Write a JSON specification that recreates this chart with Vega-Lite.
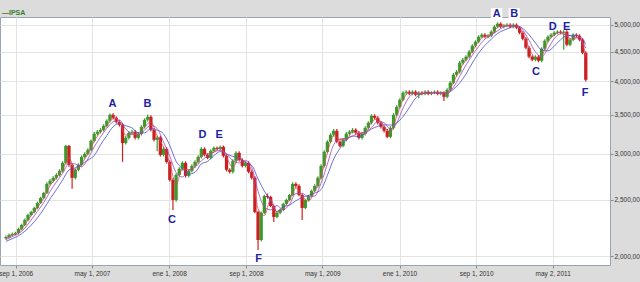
{
  "$schema": "https://vega.github.io/schema/vega-lite/v6.json",
  "width": 610,
  "height": 248,
  "autosize": {"type": "none"},
  "padding": {"left": 0, "top": 17, "right": 30, "bottom": 17},
  "background": "#dcdcdc",
  "view": {"fill": "#ffffff", "stroke": "#9aa4b0", "strokeWidth": 1},
  "title": {"text": "—IPSA", "anchor": "start", "fontSize": 7, "fontWeight": "bold", "color": "#3a7d2a", "offset": 3, "dx": 2, "dy": 11, "font": "Liberation Sans", "frame": "group"},
  "config": {
    "font": "Liberation Sans",
    "axis": {"labelFont": "Liberation Sans", "labelFontSize": 6.5, "labelColor": "#333333", "tickColor": "#8a8a8a", "tickSize": 3, "gridColor": "#e3e3e3", "gridWidth": 1, "domain": false, "labelOverlap": false, "labelFlush": false}
  },
  "datasets": {
    "ohlc": [
      {"d":"2006-08-01","o":2145,"h":2169,"l":2133,"c":2157},
      {"d":"2006-08-11","o":2157,"h":2186,"l":2145,"c":2174},
      {"d":"2006-08-21","o":2174,"h":2195,"l":2162,"c":2183},
      {"d":"2006-08-31","o":2183,"h":2203,"l":2171,"c":2191},
      {"d":"2006-09-10","o":2191,"h":2239,"l":2179,"c":2227},
      {"d":"2006-09-20","o":2227,"h":2274,"l":2215,"c":2262},
      {"d":"2006-09-30","o":2262,"h":2320,"l":2250,"c":2308},
      {"d":"2006-10-10","o":2308,"h":2366,"l":2296,"c":2354},
      {"d":"2006-10-20","o":2354,"h":2394,"l":2342,"c":2382},
      {"d":"2006-10-30","o":2382,"h":2432,"l":2370,"c":2420},
      {"d":"2006-11-09","o":2420,"h":2481,"l":2408,"c":2469},
      {"d":"2006-11-19","o":2469,"h":2530,"l":2457,"c":2518},
      {"d":"2006-11-29","o":2518,"h":2581,"l":2506,"c":2569},
      {"d":"2006-12-09","o":2569,"h":2680,"l":2557,"c":2662},
      {"d":"2006-12-19","o":2662,"h":2713,"l":2644,"c":2695},
      {"d":"2006-12-29","o":2695,"h":2745,"l":2677,"c":2727},
      {"d":"2007-01-08","o":2727,"h":2777,"l":2709,"c":2759},
      {"d":"2007-01-18","o":2759,"h":2822,"l":2741,"c":2804},
      {"d":"2007-01-28","o":2804,"h":2912,"l":2786,"c":2894},
      {"d":"2007-02-07","o":2894,"h":3110,"l":2876,"c":3095},
      {"d":"2007-02-17","o":3095,"h":3105,"l":2850,"c":2871},
      {"d":"2007-02-27","o":2871,"h":2889,"l":2611,"c":2727},
      {"d":"2007-03-09","o":2727,"h":2833,"l":2709,"c":2815},
      {"d":"2007-03-19","o":2815,"h":2889,"l":2797,"c":2871},
      {"d":"2007-03-29","o":2871,"h":2981,"l":2853,"c":2963},
      {"d":"2007-04-08","o":2963,"h":3017,"l":2945,"c":2999},
      {"d":"2007-04-18","o":2999,"h":3065,"l":2981,"c":3047},
      {"d":"2007-04-28","o":3047,"h":3176,"l":3029,"c":3158},
      {"d":"2007-05-08","o":3158,"h":3269,"l":3140,"c":3247},
      {"d":"2007-05-18","o":3247,"h":3295,"l":3225,"c":3273},
      {"d":"2007-05-28","o":3273,"h":3321,"l":3251,"c":3299},
      {"d":"2007-06-07","o":3299,"h":3373,"l":3277,"c":3351},
      {"d":"2007-06-17","o":3351,"h":3441,"l":3329,"c":3419},
      {"d":"2007-06-27","o":3419,"h":3520,"l":3397,"c":3501},
      {"d":"2007-07-07","o":3501,"h":3523,"l":3438,"c":3460},
      {"d":"2007-07-17","o":3460,"h":3482,"l":3383,"c":3405},
      {"d":"2007-07-27","o":3405,"h":3427,"l":3343,"c":3365},
      {"d":"2007-08-06","o":3365,"h":3387,"l":2905,"c":3130},
      {"d":"2007-08-16","o":3130,"h":3218,"l":3112,"c":3196},
      {"d":"2007-08-26","o":3196,"h":3282,"l":3174,"c":3260},
      {"d":"2007-09-05","o":3260,"h":3295,"l":3238,"c":3273},
      {"d":"2007-09-15","o":3273,"h":3295,"l":3174,"c":3196},
      {"d":"2007-09-25","o":3196,"h":3269,"l":3174,"c":3247},
      {"d":"2007-10-05","o":3247,"h":3360,"l":3225,"c":3338},
      {"d":"2007-10-15","o":3338,"h":3455,"l":3316,"c":3433},
      {"d":"2007-10-25","o":3433,"h":3505,"l":3411,"c":3473},
      {"d":"2007-11-04","o":3473,"h":3495,"l":3277,"c":3299},
      {"d":"2007-11-14","o":3299,"h":3321,"l":3149,"c":3171},
      {"d":"2007-11-24","o":3171,"h":3222,"l":3030,"c":3200},
      {"d":"2007-12-04","o":3200,"h":3222,"l":2969,"c":2987},
      {"d":"2007-12-14","o":2987,"h":3081,"l":2969,"c":3059},
      {"d":"2007-12-24","o":3059,"h":3077,"l":2887,"c":2905},
      {"d":"2008-01-03","o":2905,"h":2923,"l":2687,"c":2705},
      {"d":"2008-01-13","o":2705,"h":2723,"l":2401,"c":2498},
      {"d":"2008-01-23","o":2498,"h":2777,"l":2480,"c":2759},
      {"d":"2008-02-02","o":2759,"h":2844,"l":2741,"c":2826},
      {"d":"2008-02-12","o":2826,"h":2912,"l":2808,"c":2894},
      {"d":"2008-02-22","o":2894,"h":2912,"l":2730,"c":2748},
      {"d":"2008-03-03","o":2748,"h":2822,"l":2730,"c":2804},
      {"d":"2008-03-13","o":2804,"h":2877,"l":2786,"c":2859},
      {"d":"2008-03-23","o":2859,"h":2923,"l":2841,"c":2905},
      {"d":"2008-04-02","o":2905,"h":2981,"l":2887,"c":2963},
      {"d":"2008-04-12","o":2963,"h":3077,"l":2945,"c":3059},
      {"d":"2008-04-22","o":3059,"h":3077,"l":2969,"c":2987},
      {"d":"2008-05-02","o":2987,"h":3005,"l":2934,"c":2952},
      {"d":"2008-05-12","o":2952,"h":3053,"l":2934,"c":3035},
      {"d":"2008-05-22","o":3035,"h":3089,"l":3017,"c":3071},
      {"d":"2008-06-01","o":3071,"h":3089,"l":3041,"c":3059},
      {"d":"2008-06-11","o":3059,"h":3101,"l":3041,"c":3083},
      {"d":"2008-06-21","o":3083,"h":3101,"l":2957,"c":2975},
      {"d":"2008-07-01","o":2975,"h":2993,"l":2797,"c":2815},
      {"d":"2008-07-11","o":2815,"h":2833,"l":2775,"c":2793},
      {"d":"2008-07-21","o":2793,"h":2935,"l":2775,"c":2917},
      {"d":"2008-07-31","o":2917,"h":3029,"l":2899,"c":3011},
      {"d":"2008-08-10","o":3011,"h":3029,"l":2910,"c":2928},
      {"d":"2008-08-20","o":2928,"h":2946,"l":2841,"c":2859},
      {"d":"2008-08-30","o":2859,"h":2912,"l":2841,"c":2894},
      {"d":"2008-09-09","o":2894,"h":2912,"l":2775,"c":2793},
      {"d":"2008-09-19","o":2793,"h":2811,"l":2709,"c":2727},
      {"d":"2008-09-29","o":2727,"h":2745,"l":2370,"c":2382},
      {"d":"2008-10-09","o":2382,"h":2394,"l":2049,"c":2131},
      {"d":"2008-10-19","o":2131,"h":2385,"l":2119,"c":2373},
      {"d":"2008-10-29","o":2373,"h":2550,"l":2361,"c":2538},
      {"d":"2008-11-08","o":2538,"h":2562,"l":2510,"c":2528},
      {"d":"2008-11-18","o":2528,"h":2540,"l":2427,"c":2439},
      {"d":"2008-11-28","o":2439,"h":2451,"l":2289,"c":2335},
      {"d":"2008-12-08","o":2335,"h":2385,"l":2323,"c":2373},
      {"d":"2008-12-18","o":2373,"h":2413,"l":2361,"c":2401},
      {"d":"2008-12-28","o":2401,"h":2471,"l":2389,"c":2459},
      {"d":"2009-01-07","o":2459,"h":2510,"l":2447,"c":2498},
      {"d":"2009-01-17","o":2498,"h":2560,"l":2486,"c":2548},
      {"d":"2009-01-27","o":2548,"h":2680,"l":2536,"c":2662},
      {"d":"2009-02-06","o":2662,"h":2680,"l":2623,"c":2641},
      {"d":"2009-02-16","o":2641,"h":2659,"l":2536,"c":2548},
      {"d":"2009-02-26","o":2548,"h":2560,"l":2308,"c":2420},
      {"d":"2009-03-08","o":2420,"h":2510,"l":2408,"c":2498},
      {"d":"2009-03-18","o":2498,"h":2550,"l":2486,"c":2538},
      {"d":"2009-03-28","o":2538,"h":2602,"l":2526,"c":2590},
      {"d":"2009-04-07","o":2590,"h":2659,"l":2578,"c":2641},
      {"d":"2009-04-17","o":2641,"h":2745,"l":2623,"c":2727},
      {"d":"2009-04-27","o":2727,"h":2877,"l":2709,"c":2859},
      {"d":"2009-05-07","o":2859,"h":3041,"l":2841,"c":3023},
      {"d":"2009-05-17","o":3023,"h":3164,"l":3005,"c":3146},
      {"d":"2009-05-27","o":3146,"h":3256,"l":3128,"c":3234},
      {"d":"2009-06-06","o":3234,"h":3308,"l":3212,"c":3286},
      {"d":"2009-06-16","o":3286,"h":3308,"l":3128,"c":3146},
      {"d":"2009-06-26","o":3146,"h":3164,"l":3077,"c":3095},
      {"d":"2009-07-06","o":3095,"h":3189,"l":3077,"c":3171},
      {"d":"2009-07-16","o":3171,"h":3269,"l":3153,"c":3247},
      {"d":"2009-07-26","o":3247,"h":3295,"l":3225,"c":3273},
      {"d":"2009-08-05","o":3273,"h":3321,"l":3251,"c":3299},
      {"d":"2009-08-15","o":3299,"h":3321,"l":3238,"c":3260},
      {"d":"2009-08-25","o":3260,"h":3282,"l":3174,"c":3196},
      {"d":"2009-09-04","o":3196,"h":3269,"l":3174,"c":3247},
      {"d":"2009-09-14","o":3247,"h":3347,"l":3225,"c":3325},
      {"d":"2009-09-24","o":3325,"h":3414,"l":3303,"c":3392},
      {"d":"2009-10-04","o":3392,"h":3509,"l":3370,"c":3487},
      {"d":"2009-10-14","o":3487,"h":3509,"l":3438,"c":3460},
      {"d":"2009-10-24","o":3460,"h":3482,"l":3370,"c":3392},
      {"d":"2009-11-03","o":3392,"h":3414,"l":3316,"c":3338},
      {"d":"2009-11-13","o":3338,"h":3360,"l":3264,"c":3286},
      {"d":"2009-11-23","o":3286,"h":3308,"l":3190,"c":3208},
      {"d":"2009-12-03","o":3208,"h":3347,"l":3190,"c":3325},
      {"d":"2009-12-13","o":3325,"h":3523,"l":3303,"c":3501},
      {"d":"2009-12-23","o":3501,"h":3636,"l":3479,"c":3614},
      {"d":"2010-01-02","o":3614,"h":3738,"l":3592,"c":3716},
      {"d":"2010-01-12","o":3716,"h":3843,"l":3694,"c":3821},
      {"d":"2010-01-22","o":3821,"h":3858,"l":3790,"c":3836},
      {"d":"2010-02-01","o":3836,"h":3858,"l":3784,"c":3806},
      {"d":"2010-02-11","o":3806,"h":3858,"l":3784,"c":3836},
      {"d":"2010-02-21","o":3836,"h":3858,"l":3768,"c":3790},
      {"d":"2010-03-03","o":3790,"h":3843,"l":3740,"c":3821},
      {"d":"2010-03-13","o":3821,"h":3843,"l":3784,"c":3806},
      {"d":"2010-03-23","o":3806,"h":3858,"l":3784,"c":3836},
      {"d":"2010-04-02","o":3836,"h":3858,"l":3784,"c":3806},
      {"d":"2010-04-12","o":3806,"h":3843,"l":3784,"c":3821},
      {"d":"2010-04-22","o":3821,"h":3858,"l":3799,"c":3836},
      {"d":"2010-05-02","o":3836,"h":3858,"l":3784,"c":3806},
      {"d":"2010-05-12","o":3806,"h":3843,"l":3784,"c":3821},
      {"d":"2010-05-22","o":3821,"h":3843,"l":3700,"c":3760},
      {"d":"2010-06-01","o":3760,"h":3889,"l":3738,"c":3867},
      {"d":"2010-06-11","o":3867,"h":4004,"l":3845,"c":3976},
      {"d":"2010-06-21","o":3976,"h":4132,"l":3954,"c":4104},
      {"d":"2010-07-01","o":4104,"h":4181,"l":4076,"c":4153},
      {"d":"2010-07-11","o":4153,"h":4332,"l":4125,"c":4304},
      {"d":"2010-07-21","o":4304,"h":4384,"l":4276,"c":4356},
      {"d":"2010-07-31","o":4356,"h":4436,"l":4328,"c":4408},
      {"d":"2010-08-10","o":4408,"h":4525,"l":4380,"c":4497},
      {"d":"2010-08-20","o":4497,"h":4632,"l":4469,"c":4604},
      {"d":"2010-08-30","o":4604,"h":4706,"l":4576,"c":4678},
      {"d":"2010-09-09","o":4678,"h":4799,"l":4650,"c":4771},
      {"d":"2010-09-19","o":4771,"h":4837,"l":4743,"c":4809},
      {"d":"2010-09-29","o":4809,"h":4837,"l":4743,"c":4771},
      {"d":"2010-10-09","o":4771,"h":4818,"l":4743,"c":4790},
      {"d":"2010-10-19","o":4790,"h":4896,"l":4762,"c":4868},
      {"d":"2010-10-29","o":4868,"h":4993,"l":4840,"c":4965},
      {"d":"2010-11-08","o":4965,"h":5052,"l":4937,"c":5024},
      {"d":"2010-11-18","o":5024,"h":5052,"l":4937,"c":4965},
      {"d":"2010-11-28","o":4965,"h":5012,"l":4937,"c":4984},
      {"d":"2010-12-08","o":4984,"h":5032,"l":4956,"c":5004},
      {"d":"2010-12-18","o":5004,"h":5032,"l":4937,"c":4965},
      {"d":"2010-12-28","o":4965,"h":5032,"l":4937,"c":5004},
      {"d":"2011-01-07","o":5004,"h":5032,"l":4917,"c":4945},
      {"d":"2011-01-17","o":4945,"h":4973,"l":4820,"c":4848},
      {"d":"2011-01-27","o":4848,"h":4876,"l":4706,"c":4734},
      {"d":"2011-02-06","o":4734,"h":4762,"l":4540,"c":4568},
      {"d":"2011-02-16","o":4568,"h":4596,"l":4380,"c":4408},
      {"d":"2011-02-26","o":4408,"h":4436,"l":4328,"c":4356},
      {"d":"2011-03-08","o":4356,"h":4436,"l":4328,"c":4408},
      {"d":"2011-03-18","o":4408,"h":4436,"l":4311,"c":4339},
      {"d":"2011-03-28","o":4339,"h":4578,"l":4311,"c":4550},
      {"d":"2011-04-07","o":4550,"h":4725,"l":4522,"c":4697},
      {"d":"2011-04-17","o":4697,"h":4799,"l":4669,"c":4771},
      {"d":"2011-04-27","o":4771,"h":4837,"l":4743,"c":4809},
      {"d":"2011-05-07","o":4809,"h":4876,"l":4781,"c":4848},
      {"d":"2011-05-17","o":4848,"h":4896,"l":4820,"c":4868},
      {"d":"2011-05-27","o":4868,"h":4896,"l":4820,"c":4848},
      {"d":"2011-06-06","o":4848,"h":4896,"l":4532,"c":4868},
      {"d":"2011-06-16","o":4868,"h":4896,"l":4595,"c":4623},
      {"d":"2011-06-26","o":4623,"h":4744,"l":4595,"c":4716},
      {"d":"2011-07-06","o":4716,"h":4837,"l":4688,"c":4809},
      {"d":"2011-07-16","o":4809,"h":4837,"l":4762,"c":4790},
      {"d":"2011-07-26","o":4790,"h":4818,"l":4688,"c":4716},
      {"d":"2011-08-05","o":4716,"h":4744,"l":4450,"c":4478},
      {"d":"2011-08-15","o":4478,"h":4506,"l":3995,"c":4023}
    ],
    "ma": [
      {"d":"2006-08-01","a":2146,"b":2135,"e":2120},
      {"d":"2006-08-21","a":2171,"b":2159,"e":2142},
      {"d":"2006-09-10","a":2200,"b":2186,"e":2167},
      {"d":"2006-09-30","a":2266,"b":2234,"e":2206},
      {"d":"2006-10-20","a":2348,"b":2307,"e":2260},
      {"d":"2006-11-09","a":2424,"b":2387,"e":2327},
      {"d":"2006-11-29","a":2519,"b":2472,"e":2410},
      {"d":"2006-12-19","a":2642,"b":2583,"e":2509},
      {"d":"2007-01-08","a":2727,"b":2682,"e":2602},
      {"d":"2007-01-28","a":2819,"b":2776,"e":2704},
      {"d":"2007-02-17","a":2953,"b":2885,"e":2813},
      {"d":"2007-03-09","a":2804,"b":2880,"e":2837},
      {"d":"2007-03-29","a":2883,"b":2849,"e":2880},
      {"d":"2007-04-18","a":3003,"b":2939,"e":2924},
      {"d":"2007-05-08","a":3151,"b":3083,"e":2978},
      {"d":"2007-05-28","a":3273,"b":3205,"e":3107},
      {"d":"2007-06-17","a":3356,"b":3318,"e":3224},
      {"d":"2007-07-07","a":3460,"b":3406,"e":3339},
      {"d":"2007-07-27","a":3410,"b":3430,"e":3384},
      {"d":"2007-08-16","a":3230,"b":3311,"e":3353},
      {"d":"2007-09-05","a":3243,"b":3245,"e":3324},
      {"d":"2007-09-25","a":3239,"b":3234,"e":3259},
      {"d":"2007-10-15","a":3339,"b":3297,"e":3259},
      {"d":"2007-11-04","a":3402,"b":3358,"e":3315},
      {"d":"2007-11-24","a":3223,"b":3315,"e":3295},
      {"d":"2007-12-14","a":3082,"b":3143,"e":3245},
      {"d":"2008-01-03","a":2890,"b":2971,"e":3100},
      {"d":"2008-01-23","a":2654,"b":2785,"e":2911},
      {"d":"2008-02-12","a":2826,"b":2736,"e":2829},
      {"d":"2008-03-03","a":2815,"b":2806,"e":2767},
      {"d":"2008-03-23","a":2856,"b":2842,"e":2787},
      {"d":"2008-04-12","a":2976,"b":2918,"e":2882},
      {"d":"2008-05-02","a":2999,"b":2973,"e":2910},
      {"d":"2008-05-22","a":3019,"b":3021,"e":2979},
      {"d":"2008-06-11","a":3071,"b":3040,"e":3026},
      {"d":"2008-07-01","a":2958,"b":3001,"e":2997},
      {"d":"2008-07-21","a":2842,"b":2917,"e":2969},
      {"d":"2008-08-10","a":2952,"b":2893,"e":2948},
      {"d":"2008-08-30","a":2894,"b":2922,"e":2899},
      {"d":"2008-09-19","a":2805,"b":2840,"e":2865},
      {"d":"2008-10-09","a":2413,"b":2585,"e":2716},
      {"d":"2008-10-29","a":2347,"b":2430,"e":2587},
      {"d":"2008-11-18","a":2502,"b":2402,"e":2489},
      {"d":"2008-12-08","a":2382,"b":2443,"e":2387},
      {"d":"2008-12-28","a":2411,"b":2401,"e":2431},
      {"d":"2009-01-17","a":2502,"b":2456,"e":2448},
      {"d":"2009-02-06","a":2617,"b":2562,"e":2490},
      {"d":"2009-02-26","a":2536,"b":2564,"e":2522},
      {"d":"2009-03-18","a":2485,"b":2529,"e":2544},
      {"d":"2009-04-07","a":2590,"b":2537,"e":2567},
      {"d":"2009-04-27","a":2742,"b":2671,"e":2603},
      {"d":"2009-05-17","a":3009,"b":2879,"e":2753},
      {"d":"2009-06-06","a":3222,"b":3110,"e":2938},
      {"d":"2009-06-26","a":3176,"b":3181,"e":3065},
      {"d":"2009-07-16","a":3171,"b":3189,"e":3169},
      {"d":"2009-08-05","a":3273,"b":3217,"e":3219},
      {"d":"2009-08-25","a":3252,"b":3255,"e":3211},
      {"d":"2009-09-14","a":3256,"b":3265,"e":3252},
      {"d":"2009-10-04","a":3401,"b":3329,"e":3310},
      {"d":"2009-10-24","a":3446,"b":3411,"e":3345},
      {"d":"2009-11-13","a":3339,"b":3393,"e":3366},
      {"d":"2009-12-03","a":3273,"b":3310,"e":3361},
      {"d":"2009-12-23","a":3480,"b":3387,"e":3391},
      {"d":"2010-01-12","a":3717,"b":3595,"e":3476},
      {"d":"2010-02-01","a":3821,"b":3759,"e":3603},
      {"d":"2010-02-21","a":3811,"b":3818,"e":3740},
      {"d":"2010-03-13","a":3806,"b":3812,"e":3804},
      {"d":"2010-04-02","a":3816,"b":3812,"e":3817},
      {"d":"2010-04-22","a":3821,"b":3821,"e":3819},
      {"d":"2010-05-12","a":3821,"b":3818,"e":3819},
      {"d":"2010-06-01","a":3816,"b":3818,"e":3819},
      {"d":"2010-06-21","a":3982,"b":3906,"e":3874},
      {"d":"2010-07-11","a":4187,"b":4081,"e":3974},
      {"d":"2010-07-31","a":4356,"b":4265,"e":4116},
      {"d":"2010-08-20","a":4503,"b":4434,"e":4300},
      {"d":"2010-09-09","a":4684,"b":4592,"e":4471},
      {"d":"2010-09-29","a":4784,"b":4727,"e":4612},
      {"d":"2010-10-19","a":4810,"b":4802,"e":4724},
      {"d":"2010-11-08","a":4952,"b":4884,"e":4835},
      {"d":"2010-11-28","a":4991,"b":4961,"e":4897},
      {"d":"2010-12-18","a":4984,"b":4988,"e":4946},
      {"d":"2011-01-07","a":4971,"b":4980,"e":4982},
      {"d":"2011-01-27","a":4842,"b":4899,"e":4931},
      {"d":"2011-02-16","a":4570,"b":4701,"e":4810},
      {"d":"2011-03-08","a":4391,"b":4495,"e":4659},
      {"d":"2011-03-28","a":4432,"b":4412,"e":4526},
      {"d":"2011-04-17","a":4673,"b":4553,"e":4512},
      {"d":"2011-05-07","a":4809,"b":4735,"e":4597},
      {"d":"2011-05-27","a":4855,"b":4829,"e":4716},
      {"d":"2011-06-16","a":4780,"b":4811,"e":4792},
      {"d":"2011-07-06","a":4716,"b":4773,"e":4799},
      {"d":"2011-07-26","a":4772,"b":4731,"e":4780},
      {"d":"2011-08-15","a":4406,"b":4563,"e":4628}
    ],
    "lab": [
      {"d":"2007-07-05","v":3656,"t":"A"},
      {"d":"2007-10-24","v":3656,"t":"B"},
      {"d":"2008-01-10","v":2307,"t":"C"},
      {"d":"2008-04-16","v":3232,"t":"D"},
      {"d":"2008-06-08","v":3232,"t":"E"},
      {"d":"2008-10-11","v":1976,"t":"F"},
      {"d":"2010-11-05","v":5225,"t":"A"},
      {"d":"2010-12-31","v":5225,"t":"B"},
      {"d":"2011-03-10","v":4150,"t":"C"},
      {"d":"2011-05-02","v":4963,"t":"D"},
      {"d":"2011-06-15","v":4963,"t":"E"},
      {"d":"2011-08-13","v":3819,"t":"F"}
    ]
  },
  "layer": [
    {
      "data": {"name": "ohlc"},
      "mark": {"type": "rule", "strokeWidth": 1.2},
      "encoding": {
        "x": {
          "field": "d", "type": "temporal",
          "scale": {"domain": [{"year": 2006, "month": 7, "date": 29}, {"year": 2011, "month": 10, "date": 15}]},
          "axis": {
            "title": null, "orient": "bottom", "grid": true, "labelPadding": 2,
            "values": [
              {"year": 2006, "month": 9, "date": 1},
              {"year": 2007, "month": 5, "date": 1},
              {"year": 2008, "month": 1, "date": 1},
              {"year": 2008, "month": 9, "date": 1},
              {"year": 2009, "month": 5, "date": 1},
              {"year": 2010, "month": 1, "date": 1},
              {"year": 2010, "month": 9, "date": 1},
              {"year": 2011, "month": 5, "date": 2}
            ],
            "labelExpr": "['ene','feb','mar','abr','may','jun','jul','ago','sep','oct','nov','dic'][month(datum.value)] + ' ' + date(datum.value) + ', ' + year(datum.value)"
          }
        },
        "y": {
          "field": "l", "type": "quantitative",
          "scale": {"type": "log", "domain": [1930, 5160], "nice": false},
          "axis": {
            "title": null, "orient": "right", "grid": true, "labelPadding": 1,
            "values": [2000, 2500, 3000, 3500, 4000, 4500, 5000],
            "labelExpr": "replace(format(datum.value, ',.2f'), '.', ',')"
          }
        },
        "y2": {"field": "h"},
        "color": {"condition": {"test": "datum.c >= datum.o", "value": "#3c9a2c"}, "value": "#cc2020"}
      }
    },
    {
      "data": {"name": "ohlc"},
      "mark": {"type": "bar", "size": 3.3},
      "encoding": {
        "x": {"field": "d", "type": "temporal"},
        "y": {"field": "o", "type": "quantitative"},
        "y2": {"field": "c"},
        "color": {"condition": {"test": "datum.c >= datum.o", "value": "#3c9a2c"}, "value": "#cc2020"}
      }
    },
    {
      "data": {"name": "ma"},
      "mark": {"type": "line", "strokeWidth": 0.8, "color": "#4a4ad0", "interpolate": "monotone"},
      "encoding": {"x": {"field": "d", "type": "temporal"}, "y": {"field": "e", "type": "quantitative"}}
    },
    {
      "data": {"name": "ma"},
      "mark": {"type": "line", "strokeWidth": 0.8, "color": "#a048b8", "interpolate": "monotone"},
      "encoding": {"x": {"field": "d", "type": "temporal"}, "y": {"field": "b", "type": "quantitative"}}
    },
    {
      "data": {"name": "ma"},
      "mark": {"type": "line", "strokeWidth": 0.8, "color": "#d84a5a", "interpolate": "monotone"},
      "encoding": {"x": {"field": "d", "type": "temporal"}, "y": {"field": "a", "type": "quantitative"}}
    },
    {
      "data": {"name": "lab"},
      "transform": [{"filter": "datum.v > 5100"}],
      "mark": {"type": "point", "shape": "square", "size": 130, "filled": true, "color": "#ffffff", "opacity": 1},
      "encoding": {"x": {"field": "d", "type": "temporal"}, "y": {"field": "v", "type": "quantitative"}}
    },
    {
      "data": {"name": "lab"},
      "mark": {"type": "text", "font": "Liberation Sans", "fontSize": 11, "fontWeight": "bold", "color": "#1f1fa0", "baseline": "middle", "align": "center"},
      "encoding": {"x": {"field": "d", "type": "temporal"}, "y": {"field": "v", "type": "quantitative"}, "text": {"field": "t"}}
    }
  ]
}
